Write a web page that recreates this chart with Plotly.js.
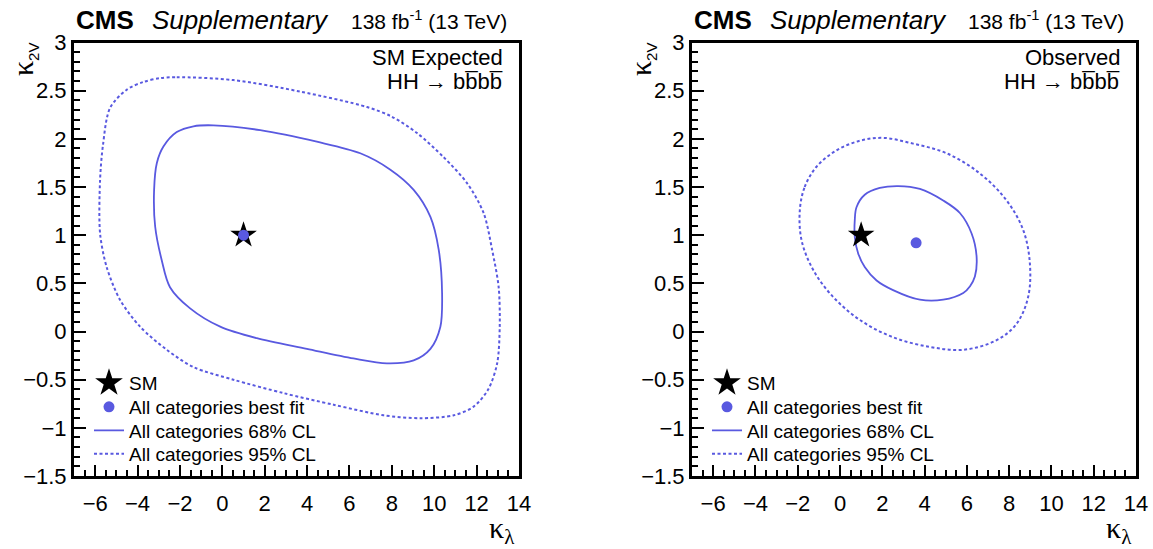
<!DOCTYPE html>
<html><head><meta charset="utf-8">
<script src="https://cdn.plot.ly/plotly-3.0.1.min.js"></script>
<style>html,body{margin:0;padding:0;background:#fff}#chart{width:1153px;height:549px}</style>
</head><body><div id="chart"></div>
<script>
// ---- Data (kappa_lambda, kappa_2V) ----
// SM Expected panel
const expCL68_kl  = [-2.15,-1.36,-0.42,1.79,4.46,6.51,7.93,9.03,9.82,10.21,10.37,10.29,9.82,9.03,7.77,6.19,3.99,1.63,-0.10,-1.52,-2.47,-2.86,-3.17,-3.22,-3.09,-2.78,-2.15];
const expCL68_k2v = [2.07,2.13,2.14,2.09,1.97,1.85,1.68,1.47,1.19,0.85,0.40,0.05,-0.18,-0.30,-0.33,-0.28,-0.18,-0.07,0.05,0.24,0.46,0.74,1.09,1.47,1.75,1.92,2.07];
const expCL95_kl  = [-2.94,-2.15,0.52,3.68,6.83,8.0,9.19,10.44,11.55,12.33,12.73,13.04,13.09,12.97,12.55,11.86,10.92,9.34,7.61,5.25,2.89,0.52,-1.36,-2.62,-3.88,-4.83,-5.46,-5.77,-5.77,-5.63,-5.30,-4.51,-3.73,-2.94];
const expCL95_k2v = [2.63,2.64,2.61,2.49,2.33,2.23,2.06,1.81,1.54,1.23,0.85,0.46,0.05,-0.33,-0.60,-0.78,-0.87,-0.90,-0.87,-0.76,-0.64,-0.50,-0.37,-0.19,0.05,0.33,0.67,1.02,1.57,1.94,2.32,2.51,2.59,2.63];
const expBest_kl = [1.0], expBest_k2v = [1.0];
// Observed panel
const obsCL68_kl  = [0.70,0.78,1.17,1.88,2.75,3.78,4.88,5.67,6.22,6.46,6.38,6.15,5.83,4.88,3.78,2.51,1.73,1.17,0.86,0.70,0.70];
const obsCL68_k2v = [1.16,1.29,1.42,1.49,1.51,1.48,1.36,1.23,1.02,0.78,0.57,0.47,0.40,0.33,0.33,0.43,0.53,0.67,0.81,0.98,1.16];
const obsCL95_kl  = [-1.90,-1.67,-1.11,-0.17,0.94,2.04,3.46,5.04,6.62,7.88,8.67,8.98,8.90,8.35,7.41,5.83,4.25,2.51,0.94,-0.33,-1.27,-1.82,-1.90];
const obsCL95_k2v = [1.26,1.50,1.71,1.88,1.98,2.01,1.95,1.85,1.64,1.36,1.05,0.71,0.36,0.08,-0.09,-0.19,-0.16,-0.06,0.12,0.36,0.64,0.95,1.26];
const obsBest_kl = [3.6], obsBest_k2v = [0.92];
// Standard Model point
const sm_kl = [1.0], sm_k2v = [1.0];
// Text
const legendLabels = ['SM','All categories best fit','All categories 68% CL','All categories 95% CL'];
const panelLabels = ['SM Expected','Observed'];
const procLabel = 'HH \u2192 bb\u0305bb\u0305';

// ---- Styling ----
const BLUE = 'rgb(89,89,224)';
const SANS = 'Liberation Sans, Arial, sans-serif';
const SERIF = 'Liberation Serif, Times New Roman, serif';
const W = 1153, H = 549;
const P = px => px / W, Q = py => 1 - py / H;

function mkTraces(ax, ay, c95x, c95y, c68x, c68y, bx, by, legs, sm95, sm68) {
  return [
    {x:c95x, y:c95y, xaxis:ax, yaxis:ay, mode:'lines', name:legendLabels[3], legend:legs[3],
     line:{color:BLUE, width:2, dash:'3px,2.5px', shape:'spline', smoothing:sm95}, hoverinfo:'skip'},
    {x:c68x, y:c68y, xaxis:ax, yaxis:ay, mode:'lines', name:legendLabels[2], legend:legs[2],
     line:{color:BLUE, width:1.8, shape:'spline', smoothing:sm68}, hoverinfo:'skip'},
    {x:sm_kl, y:sm_k2v, xaxis:ax, yaxis:ay, mode:'markers', name:legendLabels[0], legend:legs[0],
     marker:{symbol:'star', size:20, color:'#000'}, hoverinfo:'skip'},
    {x:bx, y:by, xaxis:ax, yaxis:ay, mode:'markers', name:legendLabels[1], legend:legs[1],
     marker:{symbol:'circle', size:11, color:BLUE}, hoverinfo:'skip'}
  ];
}

const data = [
  ...mkTraces('x','y', expCL95_kl, expCL95_k2v, expCL68_kl, expCL68_k2v, expBest_kl, expBest_k2v, ['legend','legend2','legend3','legend4'], 0.85, 0.9),
  ...mkTraces('x2','y2', obsCL95_kl, obsCL95_k2v, obsCL68_kl, obsCL68_k2v, obsBest_kl, obsBest_k2v, ['legend5','legend6','legend7','legend8'], 1, 1)
];

function xax(domain, anchor) {
  return {domain, anchor, range:[-7,14], tickmode:'linear', tick0:0, dtick:2,
    ticks:'inside', ticklen:11, tickwidth:2, tickcolor:'#000',
    showline:true, linewidth:3, linecolor:'#000', mirror:true,
    showgrid:false, zeroline:false, ticklabelstandoff:6,
    tickfont:{family:SANS, size:22, color:'#000'},
    minor:{ticks:'inside', ticklen:6, tickwidth:2, tickcolor:'#000', tickmode:'linear', tick0:0, dtick:0.5, showgrid:false},
    fixedrange:true};
}
function yax(domain, anchor) {
  return {domain, anchor, range:[-1.5,3], tickmode:'linear', tick0:0, dtick:0.5,
    ticks:'inside', ticklen:12, tickwidth:2, tickcolor:'#000',
    showline:true, linewidth:3, linecolor:'#000', mirror:true,
    showgrid:false, zeroline:false,
    tickfont:{family:SANS, size:22, color:'#000'},
    minor:{ticks:'inside', ticklen:6, tickwidth:2, tickcolor:'#000', tickmode:'linear', tick0:0, dtick:0.1, showgrid:false},
    fixedrange:true};
}

const yDom = [1 - 476/H, 1 - 42.5/H];
const frames = [{l:74, r:519}, {l:692, r:1136}];
const rowsY = [383, 407, 430.5, 454];

const annotations = [];
const legends = {};
frames.forEach((f, i) => {
  annotations.push(
    {text:'<b>CMS</b>', x:P(f.l), y:Q(20), xref:'paper', yref:'paper', xanchor:'left', yanchor:'middle', showarrow:false, font:{family:SANS, size:26, color:'#000'}},
    {text:'<i>Supplementary</i>', x:P(f.l+76), y:Q(20), xref:'paper', yref:'paper', xanchor:'left', yanchor:'middle', showarrow:false, font:{family:SANS, size:26, color:'#000'}},
    {text:'138 fb<sup>-1</sup> (13 TeV)', x:P(f.r-10), y:Q(20), xref:'paper', yref:'paper', xanchor:'right', yanchor:'middle', showarrow:false, font:{family:SANS, size:21, color:'#000'}},
    {text:panelLabels[i], x:P(f.r-14), y:Q(57), xref:'paper', yref:'paper', xanchor:'right', yanchor:'middle', showarrow:false, font:{family:SANS, size:22, color:'#000'}},
    {text:procLabel, x:P(f.r-14), y:Q(82), xref:'paper', yref:'paper', xanchor:'right', yanchor:'middle', showarrow:false, font:{family:SANS, size:22, color:'#000'}},
    {text:'\u03ba<sub><span style="font-family:Liberation Sans;font-size:15px">2V</span></sub>', x:P(f.l-50), y:Q(60), xref:'paper', yref:'paper', xanchor:'center', yanchor:'middle', textangle:-90, showarrow:false, font:{family:SERIF, size:30, color:'#000'}},
    {text:'\u03ba<sub>\u03bb</sub>', x:P(f.r-2), y:Q(530), xref:'paper', yref:'paper', xanchor:'right', yanchor:'middle', showarrow:false, font:{family:SERIF, size:30, color:'#000'}}
  );
  for (let k = 0; k < 4; k++) {
    const name = 'legend' + (i*4 + k === 0 ? '' : (i*4 + k + 1));
    legends[name] = {x:P(f.l+15), y:Q(rowsY[k]), xref:'paper', yref:'paper', xanchor:'left', yanchor:'middle',
      bgcolor:'rgba(0,0,0,0)', borderwidth:0, font:{family:SANS, size:19, color:'#000'}};
  }
});

const layout = Object.assign({
  width:W, height:H, margin:{l:0, r:0, t:0, b:0},
  paper_bgcolor:'#fff', plot_bgcolor:'#fff', showlegend:true,
  xaxis: xax([P(74), P(519)], 'y'),
  yaxis: yax(yDom, 'x'),
  xaxis2: xax([P(692), P(1136)], 'y2'),
  yaxis2: yax(yDom, 'x2'),
  annotations
}, legends);

Plotly.newPlot('chart', data, layout, {staticPlot:true, displayModeBar:false}).then(gd => {
  gd.querySelectorAll('g.traces').forEach(tr => {
    const d = tr.__data__;
    if (d && d[0] && d[0].trace && d[0].trace.marker && d[0].trace.marker.symbol === 'star') {
      tr.querySelectorAll('path.scatterpts').forEach(p => {
        const t = p.getAttribute('transform') || '';
        p.setAttribute('transform', t + ' scale(1.3)');
      });
    }
  });
});
</script></body></html>
